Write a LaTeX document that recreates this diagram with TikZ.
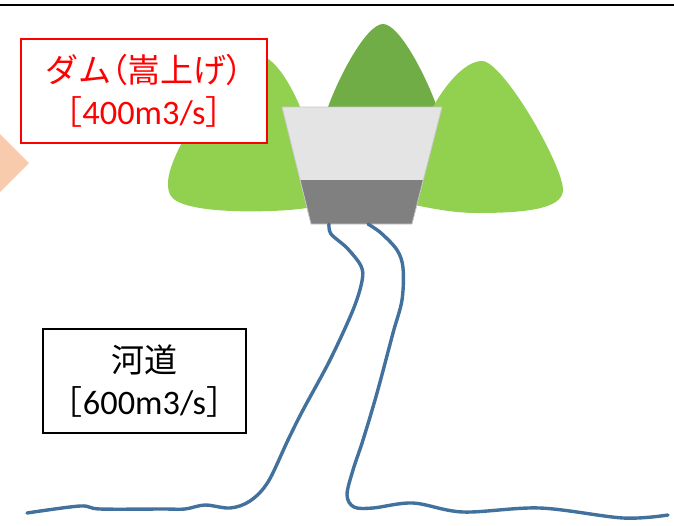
\documentclass[tikz,border=0pt]{standalone}
\usepackage{fontspec}
\setmainfont[Scale=1.04]{Carlito}
\newfontfamily\jp{Noto Sans CJK JP}
\newfontfamily\jpp[RawFeature=+palt]{Noto Sans CJK JP}
\definecolor{lightgreen}{HTML}{92D050}
\definecolor{darkgreen}{HTML}{70AD47}
\definecolor{damtop}{HTML}{E4E4E4}
\definecolor{dambase}{HTML}{808080}
\definecolor{damedge}{HTML}{C9C9C9}
\definecolor{river}{HTML}{41719C}
\definecolor{peach}{HTML}{F8CBAD}
\tikzset{
  labelbox/.style={draw, line width=1.6pt, fill=white, minimum width=246pt,
    minimum height=104pt, inner sep=0pt, align=center,
    font=\fontsize{33}{42}\selectfont},
  riverline/.style={draw=river, line width=3.4pt, line cap=round, line join=round},
}
\begin{document}
\begin{tikzpicture}[x=1pt, y=-1pt]
\useasboundingbox (0,0) rectangle (674,525);

% header rule
\draw[line width=2pt] (0,5) -- (674,5);

% arrow tip entering from the left
\fill[peach] (0,134) -- (29,163) -- (0,192) -- cycle;

% mountains: dark one behind, two light ones in front
\fill[darkgreen] (327,110) .. controls (337,80) and (366,24) .. (383,24)
  .. controls (400,24) and (428,80) .. (438,110) -- (380,170) -- cycle;
\fill[lightgreen] (262,57) .. controls (275,57) and (295,90) .. (305,120)
  -- (330,204) -- (307,208)
  .. controls (280,212) and (230,213) .. (200,208)
  .. controls (170,203) and (168,195) .. (168,183)
  .. controls (168,150) and (232,57) .. (262,57) -- cycle;
\fill[lightgreen] (482,61) .. controls (503,61) and (563,165) .. (563,190)
  .. controls (563,210) and (520,213) .. (477,213)
  .. controls (450,213) and (425,207) .. (400,202)
  -- (415,150) -- (433,107)
  .. controls (445,85) and (465,61) .. (482,61) -- cycle;

% dam body
\coordinate (dTL) at (282,107);
\coordinate (dTR) at (442,107);
\coordinate (dML) at (300.1,180);
\coordinate (dMR) at (423.3,180);
\coordinate (dBL) at (311,224);
\coordinate (dBR) at (412,224);
\fill[damtop] (dTL) -- (dTR) -- (dMR) -- (dML) -- cycle;
\fill[dambase] (dML) -- (dMR) -- (dBR) -- (dBL) -- cycle;
\draw[damedge, line width=0.8pt] (dTL) -- (dTR) -- (dBR) -- (dBL) -- cycle;

% river banks leaving the dam
\draw[riverline] plot[smooth, tension=0.55] coordinates {
  (329,224) (331,234) (347,248) (361,266) (362,281) (353,310) (330,360)
  (303,410) (288,440) (268,482) (250,501) (230,508) (205,505) (185,509)
  (163,509) (100,509) (80,506) (27,513)};
\draw[riverline] plot[smooth, tension=0.55] coordinates {
  (368,224) (381,233) (397,250) (403,268) (402,300) (393,333) (377,393)
  (363,440) (353,470) (347,495) (354,507) (373,508) (413,503) (463,512)
  (540,508) (623,518) (668,515)};

% labels
\node[labelbox, draw=red, text=red] (dam) at (144,91)
  {{\jp ダム}{\jpp （}{\jp 嵩上げ}{\jpp ）}\\{\jp ［}400m3/s{\jp ］}};
\node[labelbox, draw=black, minimum width=203pt] (channel) at (144.5,381)
  {{\jp 河道}\\{\jp ［}600m3/s{\jp ］}};
\end{tikzpicture}
\end{document}
